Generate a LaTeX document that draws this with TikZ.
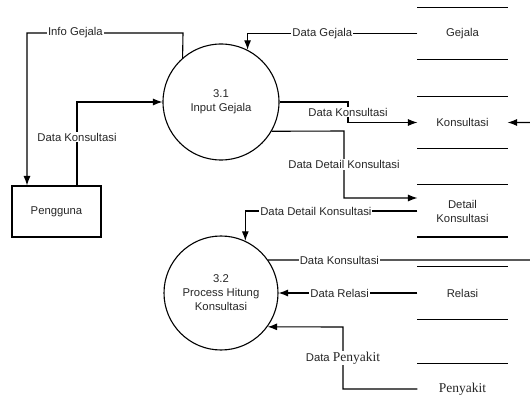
\documentclass[tikz,border=0pt]{standalone}
\usepackage{fontspec}
\setmainfont{Liberation Sans}
\newfontfamily\penfont{Liberation Serif}
\usepackage{tikz}
\usetikzlibrary{
	arrows.meta,shapes
}
\newcommand{\pentxt}[1]{{\penfont\fontsize{13.5}{16}\selectfont #1}}

\begin{document}
\begin{tikzpicture}[x=1pt,y=-1pt,
	font=\fontsize{11.3}{14}\selectfont,text=black!85,
	line width=1.1pt,>={Latex[length=9.5pt,width=7pt]},
	proc/.style={circle,draw,minimum size=116pt,inner sep=0pt,align=center},
	ent/.style={rectangle,draw,minimum width=89pt,minimum height=51pt},
	store/.style={minimum width=89pt,minimum height=51pt,align=center},
	lbl/.style={fill=white,inner sep=1pt}]
	\useasboundingbox (0,0) rectangle (530,414);
	% processes and entity
	\node[proc] (p31) at (221,102) {3.1\\Input Gejala};
	\node[proc,minimum size=114pt] (p32) at (221,293) {3.2\\Process Hitung\\Konsultasi};
	\node[ent] (peng) at (56.5,211.5) {Pengguna};
	% data stores
	\node[store] (gejala) at (462.5,33.5) {Gejala};
	\node[store] (konsul) at (462.5,122.5) {Konsultasi};
	\node[store] (detail) at (462.5,211) {Detail\\Konsultasi};
	\node[store,minimum height=52pt] (relasi) at (462.5,293) {Relasi};
	\node[store,minimum height=50pt] (penyakit) at (462.5,389) {\pentxt{Penyakit}};
	\foreach \s in {gejala,konsul,detail,relasi,penyakit}
		\draw (\s.north west) -- (\s.north east) (\s.south west) -- (\s.south east);
	% bends
	\coordinate (ig1) at (183,33);
	\coordinate (ig2) at (27,33);
	\coordinate (dk1) at (77,102);
	\coordinate (dk2) at (348,102);
	\coordinate (dk3) at (348,122.5);
	\coordinate (dd1) at (344,131);
	\coordinate (dd2) at (344,198);
	\coordinate (dk4) at (532,260);
	\coordinate (dk5) at (532,122.5);
	\coordinate (dp1) at (343,389);
	\coordinate (dp2) at (343,327);
	%
	% flows of 3.1
	\draw[->] (p31.131) -- (ig1) -- node[lbl,pos=0.69]{Info Gejala} (ig2) -- (ig2 |- peng.north);
	\draw[->] (dk1 |- peng.north) -- node[lbl,pos=0.58]{Data Konsultasi} (dk1) -- (p31.west);
	\draw[->] (gejala.west) -- node[lbl,pos=0.56]{Data Gejala} (gejala.west -| p31.63) -- (p31.63);
	\draw[->] (p31.east) -- (dk2) -- node[lbl]{Data Konsultasi} (dk3) -- (konsul.west);
	\draw[->] (p31.-30) -- (dd1) -- node[lbl]{Data Detail Konsultasi} (dd2) -- (dd2 -| detail.west);
	% flows of 3.2
	\draw[->] (p32.35) -- node[lbl,pos=0.27]{Data Konsultasi} (dk4) -- (dk5) -- (konsul.east);
	\draw[->] (detail.west) -- node[lbl,pos=0.59]{Data Detail Konsultasi} (detail.west -| p32.65) -- (p32.65);
	\draw[->] (relasi.west) -- node[lbl,pos=0.56]{Data Relasi} (p32.east);
	\draw[->] (penyakit.west) -- (dp1) -- node[lbl]{Data \pentxt{Penyakit}} (dp2) -- (p32.-36);
\end{tikzpicture}
\end{document}
